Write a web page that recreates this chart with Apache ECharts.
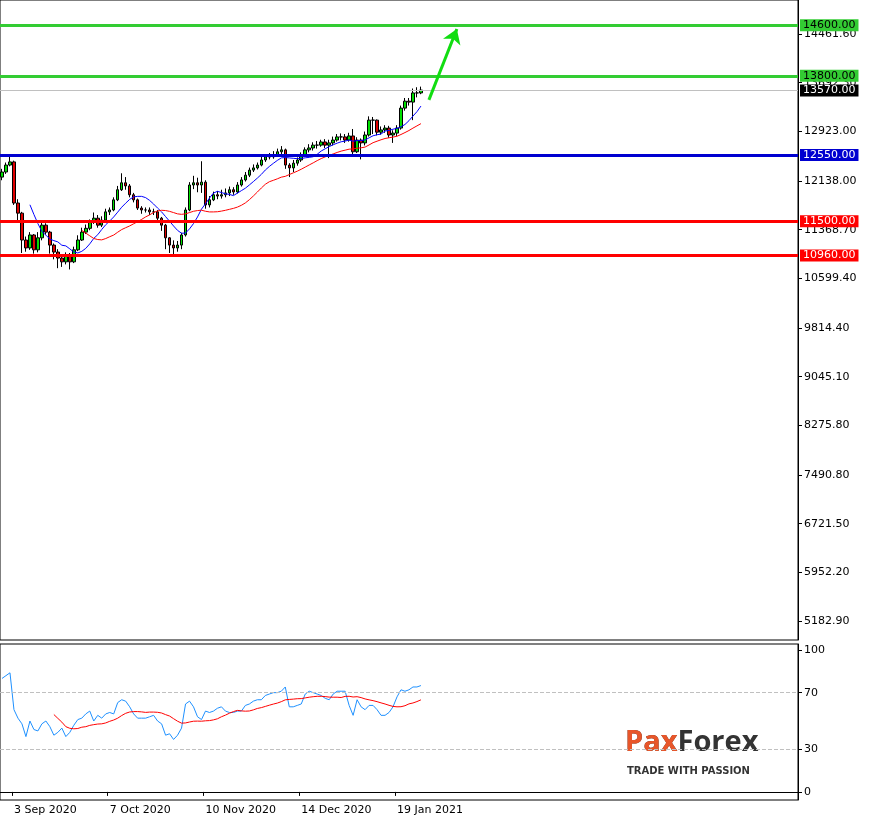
<!DOCTYPE html>
<html><head><meta charset="utf-8">
<script src="https://cdn.jsdelivr.net/npm/echarts@6/dist/echarts.min.js"></script>
<style>html,body{margin:0;padding:0;background:#fff}#c{width:870px;height:820px}</style>
</head><body><div id="c"></div>
<script>
const firstOpen = 12200;
const closes = [12280,12390,12440,11790,11630,11205,11080,11285,11050,11240,11440,11330,11125,11015,10920,10860,10970,10860,11050,11205,11330,11390,11490,11550,11440,11520,11650,11680,11840,12000,12110,12060,11920,11840,11710,11680,11680,11650,11650,11550,11440,11240,11125,11080,11125,11285,11680,12075,12110,12075,12120,11760,11840,11920,11900,11920,11950,12000,11965,12075,12155,12230,12310,12345,12390,12470,12520,12520,12550,12600,12630,12390,12345,12420,12470,12550,12630,12660,12705,12705,12755,12705,12740,12785,12835,12835,12785,12850,12600,12785,12740,12865,13100,13100,12910,12945,12975,12865,12895,12975,13290,13400,13385,13530,13530,13575];
const highs = [12330,12430,12520,12460,11850,11650,11260,11330,11300,11330,11480,11470,11350,11150,11060,10950,11010,11000,11100,11280,11400,11450,11530,11640,11600,11580,11700,11720,11880,12060,12260,12200,12090,11950,11860,11740,11720,11720,11700,11680,11570,11460,11250,11200,11190,11320,11720,12120,12220,12190,12450,12150,11900,11970,11980,12000,12020,12050,12040,12120,12200,12280,12350,12400,12430,12520,12560,12580,12610,12650,12690,12650,12420,12470,12510,12590,12670,12720,12750,12770,12790,12800,12790,12840,12880,12890,12880,12900,12960,12830,12810,12920,13160,13150,13110,13000,13020,13010,12940,13020,13330,13450,13450,13600,13620,13630];
const lows = [12150,12250,12370,11760,11500,11000,11020,11050,10990,11010,11200,11290,10990,10900,10760,10780,10820,10740,10840,11030,11190,11300,11360,11460,11400,11410,11500,11600,11660,11820,11980,12000,11880,11800,11680,11620,11640,11600,11600,11500,11350,11060,11000,10940,11020,11060,11260,11660,12010,11960,11950,11700,11720,11820,11850,11860,11880,11900,11920,11940,12050,12130,12200,12280,12320,12370,12440,12480,12490,12520,12560,12330,12200,12280,12380,12440,12520,12590,12620,12650,12680,12660,12500,12700,12760,12780,12740,12760,12560,12580,12480,12700,12840,12880,12860,12870,12900,12820,12740,12850,12950,13250,13330,13100,13460,13510];
const rsi = [80,82,84,58,52,48,39,50,44,43,48,50,46,40,42,45,39,42,47,51,52,55,57,50,54,52,55,56,55,63,65,64,60,55,52,52,52,53,54,50,48,40,41,37,40,45,62,64,60,53,51,57,56,57,59,60,57,56,56,57,57,61,62,64,65,65,68,69,70,70,71,74,60,60,61,62,69,71,70,69,68,66,65,69,71,71,71,61,54,65,60,58,61,61,58,54,54,56,60,67,72,71,72,74,74,75];
const dateLabels = {3:'3 Sep 2020',27:'7 Oct 2020',51:'10 Nov 2020',75:'14 Dec 2020',99:'19 Jan 2021'};
const priceTicks = [14461.60,13692.30,12923.00,12138.00,11368.70,10599.40,9814.40,9045.10,8275.80,7490.80,6721.50,5952.20,5182.90];
const levelsGreen = [14600,13800], levelBlue = 12550, levelsRed = [11500,10960], lastPrice = 13570;
const rsiTicks = [0,30,70,100];

const N = 200;
const cats = Array.from({length:N},(_,i)=>String(i));
const ohlc = closes.map((c,i)=>{const o = i===0?firstOpen:closes[i-1]; return [o,c,lows[i],highs[i]];});
function sma(arr,p){return arr.map((v,i)=>{if(i<p-1)return '-';let s=0;for(let k=i-p+1;k<=i;k++)s+=arr[k];return +(s/p).toFixed(2);});}
const maFast = sma(closes,8), maSlow = sma(closes,21), rsiSig = sma(rsi,14);

function lvl(v,bg,fg,col,w){return {yAxis:v,lineStyle:{color:col,width:w,type:'solid'},label:{show:true,position:'end',formatter:v.toFixed(2),backgroundColor:bg,color:fg,fontFamily:'DejaVu Sans',fontSize:11,padding:[1,3,0,3],distance:2}};}

const chart = echarts.init(document.getElementById('c'));
chart.setOption({
  animation:false,
  grid:[{left:0,right:72,top:0,height:640,show:true,borderColor:'#000',borderWidth:1},
        {left:0,right:72,top:644,height:156,show:true,borderColor:'#000',borderWidth:1}],
  xAxis:[{type:'category',data:cats,gridIndex:0,axisLine:{show:false},axisTick:{show:false},axisLabel:{show:false},splitLine:{show:false}},
         {type:'category',data:cats,gridIndex:1,axisLine:{lineStyle:{color:'#000'}},
          axisTick:{show:true,interval:(i)=>dateLabels[i]!==undefined,length:4,lineStyle:{color:'#000'}},
          axisLabel:{interval:(i)=>dateLabels[i]!==undefined,formatter:(v)=>dateLabels[+v]||'',align:'left',color:'#000',fontFamily:'DejaVu Sans',fontSize:11,margin:5},splitLine:{show:false}}],
  yAxis:[{type:'value',gridIndex:0,position:'right',min:4882.8,max:14999,splitLine:{show:false},
          axisLine:{show:true,lineStyle:{color:'#000'}},axisTick:{show:true,customValues:priceTicks,length:4,lineStyle:{color:'#000'}},
          axisLabel:{customValues:priceTicks,formatter:(v)=>v.toFixed(2),color:'#000',fontFamily:'DejaVu Sans',fontSize:11,margin:6}},
         {type:'value',gridIndex:1,position:'right',min:-5.7,max:104.3,splitLine:{show:false},
          axisLine:{show:true,lineStyle:{color:'#000'}},axisTick:{show:true,customValues:rsiTicks,length:4,lineStyle:{color:'#000'}},
          axisLabel:{customValues:rsiTicks,color:'#000',fontFamily:'DejaVu Sans',fontSize:11,margin:6}}],
  graphic:[
    {type:'text',left:625,top:728,style:{text:'PaxForex',font:'bold 29px "Open Sans"',fill:'#333'}},
    {type:'text',left:625,top:728,style:{text:'Pax',font:'bold 29px "Open Sans"',fill:'#e8562a'}},
    {type:'text',left:627,top:766,style:{text:'TRADE WITH PASSION',font:'bold 10px "DejaVu Sans"',fill:'#333'}}
  ],
  series:[
    {type:'candlestick',xAxisIndex:0,yAxisIndex:0,data:ohlc,barWidth:3,
     itemStyle:{color:'#00e000',color0:'#e00000',borderColor:'#000',borderColor0:'#000',borderWidth:1},
     markLine:{symbol:'none',silent:true,data:[
       lvl(lastPrice,'#000','#fff','#c0c0c0',1),
       lvl(levelsGreen[0],'#33cc33','#000','#33cc33',3),
       lvl(levelsGreen[1],'#33cc33','#000','#33cc33',3),
       lvl(levelBlue,'#0000d0','#fff','#0000d0',3),
       lvl(levelsRed[0],'#ff0000','#fff','#ff0000',3),
       lvl(levelsRed[1],'#ff0000','#fff','#ff0000',3),
       [{coord:['107',13420],symbol:'none'},{coord:['114',14540],symbol:'arrow',symbolSize:14,lineStyle:{color:'#11dd11',width:3,type:'solid'}}]
     ]}},
    {type:'line',xAxisIndex:0,yAxisIndex:0,data:maFast,symbol:'none',lineStyle:{color:'#0000ff',width:1}},
    {type:'line',xAxisIndex:0,yAxisIndex:0,data:maSlow,symbol:'none',lineStyle:{color:'#ff0000',width:1}},
    {type:'line',xAxisIndex:1,yAxisIndex:1,data:rsi,symbol:'none',lineStyle:{color:'#1e90ff',width:1},
     markLine:{symbol:'none',silent:true,label:{show:false},lineStyle:{color:'#c0c0c0',type:'dashed',width:1},data:[{yAxis:70},{yAxis:30}]}},
    {type:'line',xAxisIndex:1,yAxisIndex:1,data:rsiSig,symbol:'none',lineStyle:{color:'#ff0000',width:1}}
  ]
});
</script></body></html>
